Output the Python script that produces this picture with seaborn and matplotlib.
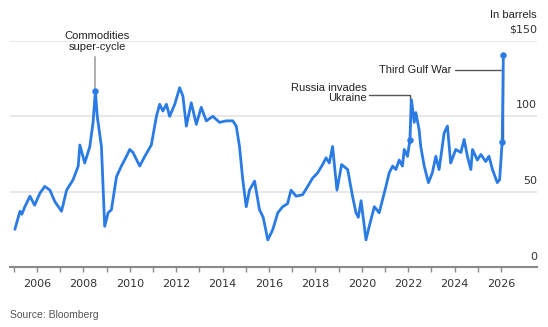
import matplotlib
matplotlib.use("Agg")
import matplotlib.pyplot as plt
import seaborn as sns
import pandas as pd

# ---- data (decimal year, $ per barrel) ----
years = [2005.05, 2005.27, 2005.35, 2005.48, 2005.70, 2005.90, 2006.13, 2006.34, 2006.56, 2006.77,
         2007.06, 2007.28, 2007.56, 2007.78, 2007.85, 2008.06, 2008.28, 2008.42, 2008.52, 2008.60,
         2008.78, 2008.92, 2009.07, 2009.21, 2009.43, 2009.64, 2009.86, 2010.00, 2010.14, 2010.43,
         2010.65, 2010.93, 2011.15, 2011.29, 2011.43, 2011.58, 2011.72, 2011.94, 2012.15, 2012.29,
         2012.44, 2012.65, 2012.87, 2013.08, 2013.30, 2013.58, 2013.87, 2014.16, 2014.44, 2014.59,
         2014.73, 2014.87, 2015.02, 2015.16, 2015.38, 2015.59, 2015.75, 2015.95, 2016.16, 2016.38,
         2016.59, 2016.80, 2016.95, 2017.17, 2017.45, 2017.67, 2017.88, 2018.10, 2018.31, 2018.46,
         2018.60, 2018.74, 2018.93, 2019.13, 2019.39, 2019.60, 2019.75, 2019.85, 2019.97, 2020.18,
         2020.32, 2020.54, 2020.75, 2021.04, 2021.18, 2021.33, 2021.47, 2021.61, 2021.75, 2021.83,
         2021.97, 2022.07, 2022.14, 2022.26, 2022.33, 2022.47, 2022.54, 2022.69, 2022.87, 2023.04,
         2023.19, 2023.33, 2023.55, 2023.69, 2023.83, 2024.05, 2024.27, 2024.41, 2024.55, 2024.70,
         2024.77, 2024.98, 2025.13, 2025.34, 2025.48, 2025.63, 2025.84, 2025.94, 2026.05, 2026.10]
prices = [25, 37, 35, 40, 47, 41, 49, 53.5, 51, 43.5,
          37, 51, 58, 67, 81, 69, 80, 96, 117, 100,
          80, 27, 36, 38, 60, 67, 73.5, 78, 76, 67,
          73.5, 81, 100, 108, 103.5, 108, 100, 108, 119, 113.5,
          93.5, 109, 94.7, 106, 97, 100, 96, 97, 97, 93.5,
          80, 58, 40, 51, 57, 38, 33, 18, 24.7, 36,
          40, 42, 51, 47, 48, 53.5, 59, 62.5, 68, 72.5,
          69, 80, 51, 68, 64.7, 47, 36, 33, 44, 18,
          27, 40, 36, 53.5, 62.5, 67, 64.7, 71, 67, 78,
          73.5, 84, 111, 96, 102.5, 91, 80, 67, 56, 62.5,
          73.5, 64.7, 89, 93.5, 69, 78, 76, 84.7, 73.5, 64.7,
          78, 71, 74.7, 70, 73.5, 64.7, 56, 58, 83, 141]

# annotated events
event_years = [2008.52, 2022.07, 2026.05, 2026.10]
event_prices = [117, 84, 83, 141]

tick_years = list(range(2006, 2027, 2))
tick_labels = [str(y) for y in tick_years]
grid_values = [50, 100, 150]
right_labels = ["$150", "100", "50", "0"]

df = pd.DataFrame({"year": years, "price": prices})
ev = pd.DataFrame({"year": event_years, "price": event_prices})

sns.set_theme(style="white")
plt.rcParams["font.family"] = ["Liberation Sans", "DejaVu Sans"]

BLUE = "#2a7be4"
W, H = 548, 327
fig = plt.figure(figsize=(W / 100, H / 100), dpi=100)
ax = fig.add_axes([10 / W, (H - 267) / H, 527 / W, 226 / H])

for g in grid_values:
    ax.axhline(g, color="#e8e8e8", lw=1.4, zorder=0)

sns.lineplot(data=df, x="year", y="price", ax=ax, color=BLUE, lw=2.0, zorder=3)
sns.scatterplot(data=ev, x="year", y="price", ax=ax, color=BLUE, s=18,
                edgecolor=BLUE, zorder=4)

ax.set_xlim(2004.84, 2027.55)
ax.set_ylim(0, 150)
ax.set_xlabel("")
ax.set_ylabel("")
for s in ["top", "right", "left"]:
    ax.spines[s].set_visible(False)
ax.spines["bottom"].set_color("#8a8a8a")
ax.spines["bottom"].set_linewidth(1.5)
ax.spines["bottom"].set_zorder(5)
ax.set_yticks([])
ax.set_xticks(tick_years)
ax.set_xticklabels(tick_labels, fontsize=8, color="#333333", family="DejaVu Sans")
ax.set_xticks(range(2005, 2027, 2), minor=True)
ax.tick_params(axis="x", which="both", direction="out", length=3.5, width=1,
               color="#8a8a8a", pad=5, bottom=True)

# right-side value labels
fig.text(537 / W, 1 - 15 / H, "In barrels", ha="right", va="center", fontsize=8, color="#222222")
for txt, py in zip(right_labels, [30, 105, 181, 257]):
    fig.text(537 / W, 1 - py / H, txt, ha="right", va="center", fontsize=8,
             color="#333333", family="DejaVu Sans")

# annotations
ann_col = "#555555"
ax.plot([2008.52, 2008.52], [139.5, 117], color="#b0b0b0", lw=1.4, zorder=2)
ax.text(2008.59, 149.6, "Commodities\nsuper-cycle", ha="center", va="center",
        fontsize=8, color="#222222", linespacing=1.15, clip_on=False)

ax.plot([2020.31, 2022.07, 2022.07], [114.0, 114.0, 84], color=ann_col, lw=1.0, zorder=2)
ax.text(2020.22, 115.2, "Russia invades\nUkraine", ha="right", va="center",
        fontsize=8, color="#222222", linespacing=1.0)

ax.plot([2024.0, 2026.07, 2026.07], [130.7, 130.7, 83], color=ann_col, lw=1.0, zorder=2)
ax.text(2023.87, 130.7, "Third Gulf War", ha="right", va="center",
        fontsize=8, color="#222222")

fig.text(10 / W, 1 - 315 / H, "Source: Bloomberg", ha="left", va="center",
         fontsize=7.5, color="#555555")

fig.savefig("out.png", dpi=100)
